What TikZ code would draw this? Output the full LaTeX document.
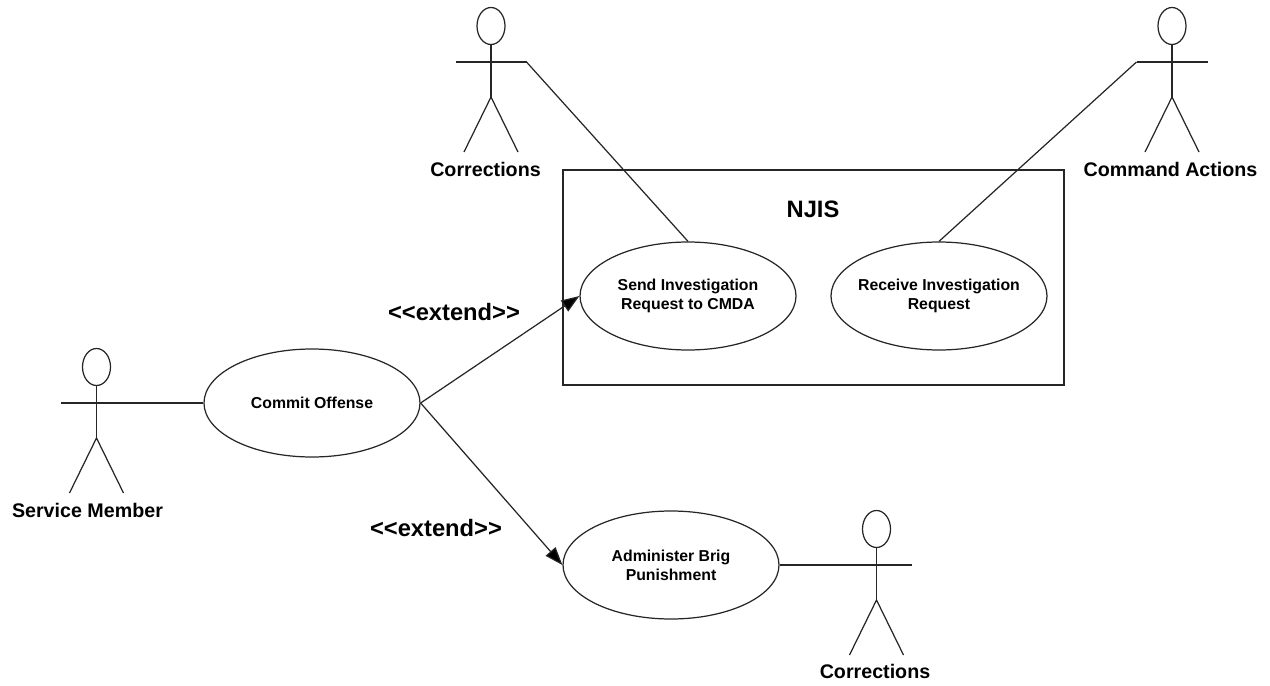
\documentclass[tikz,border=0pt]{standalone}
\usepackage{fontspec}
\setmainfont{Liberation Sans}
\usetikzlibrary{arrows.meta, positioning, shapes.geometric}
\tikzset{
    pics/actor/.style={code={
        \draw[line] (0,0.72) ellipse (0.28 and 0.37);
        \draw[line] (-0.71,0) -- (0.71,0);
        \draw[line] (0,0.35) -- (0,-0.7);
        \draw[line] (-0.54,-1.8) -- (0,-0.7) -- (0.54,-1.8);
        \coordinate (-left) at (-0.71,0);
        \coordinate (-right) at (0.71,0);
    }}
}
\begin{document}
\begin{tikzpicture}[
    line/.style={draw=black!85, line width=0.7pt},
    usecase/.style={ellipse, line, minimum width=4.32cm, minimum height=2.16cm, inner sep=-0.6cm, align=center, font=\fontsize{9pt}{10.8pt}\selectfont\bfseries},
    role/.style={font=\fontsize{11.2pt}{13pt}\selectfont\bfseries},
    stereo/.style={font=\fontsize{13.5pt}{16pt}\selectfont\bfseries},
    arrow/.style={line, -{Triangle[length=3.6mm, width=2.6mm, fill=black]}}
]
    \useasboundingbox (0,0) rectangle (25.4,13.7);

    \node[rectangle, line, minimum width=10.02cm, minimum height=4.3cm, inner sep=0pt] (njis) at (16.27,8.15) {};
    \node[stereo] (njistitle) at (16.26,9.52) {NJIS};

    \node[usecase] (offense) at (6.24,5.64) {Commit Offense};
    \node[usecase] (send) at (13.76,7.78) {Send Investigation\\Request to CMDA};
    \node[usecase] (receive) at (18.78,7.78) {Receive Investigation\\Request};
    \node[usecase] (brig) at (13.42,2.4) {Administer Brig\\Punishment};

    \pic (corr1) at (9.82,12.46) {actor};
    \pic (command) at (23.44,12.46) {actor};
    \pic (member) at (1.93,5.64) {actor};
    \pic (corr2) at (17.53,2.4) {actor};

    \node[role] (corr1label) at (9.71,10.32) {Corrections};
    \node[role] (commandlabel) at (23.41,10.32) {Command Actions};
    \node[role] (memberlabel) at (1.75,3.5) {Service Member};
    \node[role] (corr2label) at (17.5,0.28) {Corrections};

    \draw[line] (corr1-right) -- (send.north);
    \draw[line] (command-left) -- (receive.north);
    \draw[line] (member-right) -- (offense.west);
    \draw[line] (brig.east) -- (corr2-left);

    \draw[arrow] (offense.east) -- (send.west);
    \draw[arrow] (offense.east) -- (brig.west);

    \node[stereo] (extend1) at (9.08,7.46) {{<}{<}extend{>}{>}};
    \node[stereo] (extend2) at (8.72,3.14) {{<}{<}extend{>}{>}};
\end{tikzpicture}
\end{document}
